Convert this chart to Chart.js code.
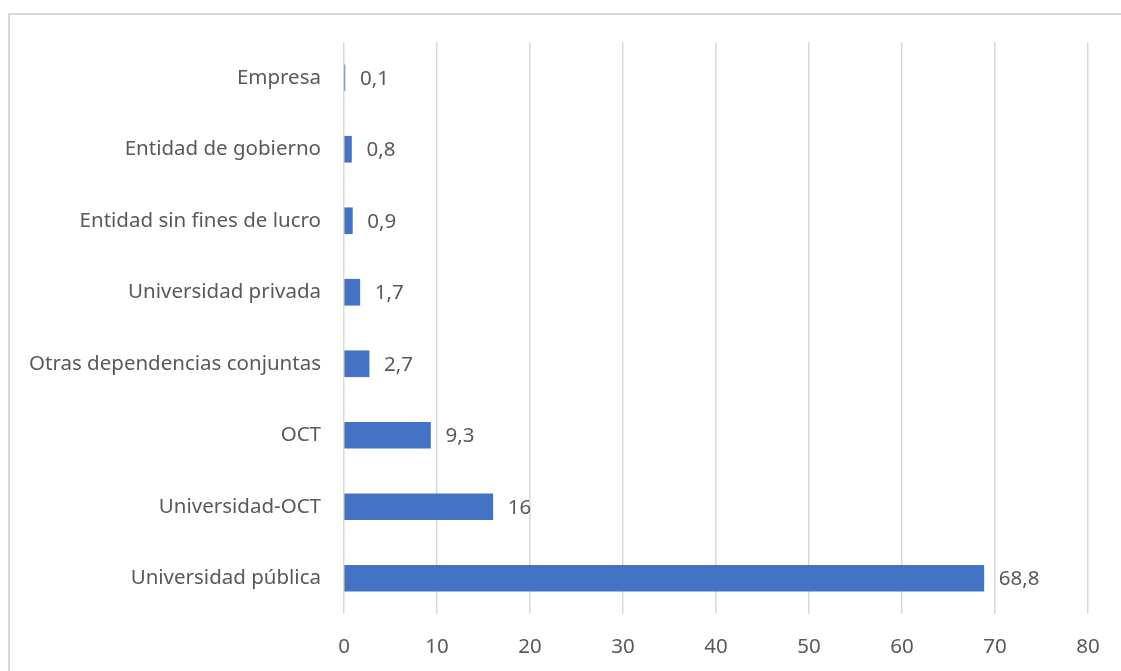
<!DOCTYPE html>
<html>
<head>
<meta charset="utf-8">
<script src="https://cdn.jsdelivr.net/npm/chart.js@4/dist/chart.umd.min.js"></script>
<style>
  html, body { margin: 0; padding: 0; background: #ffffff; overflow: hidden; }
  #frame { position: absolute; left: 8px; top: 13px; width: 1200px; height: 800px; border: 2px solid #d9d9d9; box-sizing: border-box; }
  #wrap { position: absolute; left: 0; top: 0; width: 1121px; height: 671px; }
</style>
</head>
<body>
<div id="frame"></div>
<div id="wrap"><canvas id="c" width="1121" height="671"></canvas></div>
<script>
const categories = [
  "Empresa",
  "Entidad de gobierno",
  "Entidad sin fines de lucro",
  "Universidad privada",
  "Otras dependencias conjuntas",
  "OCT",
  "Universidad-OCT",
  "Universidad pública"
];
const values = [0.1, 0.8, 0.9, 1.7, 2.7, 9.3, 16, 68.8];
const xTicks = [0, 10, 20, 30, 40, 50, 60, 70, 80];

const FONT = "'Noto Sans', 'Open Sans', sans-serif";
const TEXT = '#595959';
const FSIZE = 20.5;

const fmt = v => String(v).replace('.', ',');

const labelPlugin = {
  id: 'valueLabels',
  afterDatasetsDraw(chart) {
    const ctx = chart.ctx;
    const meta = chart.getDatasetMeta(0);
    ctx.save();
    ctx.font = FSIZE + 'px ' + FONT;
    ctx.fillStyle = TEXT;
    ctx.textAlign = 'left';
    ctx.textBaseline = 'middle';
    meta.data.forEach((bar, i) => {
      ctx.fillText(fmt(values[i]), bar.x + 15, bar.y + 1);
    });
    ctx.restore();
  }
};

new Chart(document.getElementById('c'), {
  type: 'bar',
  data: {
    labels: categories,
    datasets: [{
      data: values,
      backgroundColor: '#4472C4',
      borderWidth: 0,
      barThickness: 26
    }]
  },
  options: {
    indexAxis: 'y',
    responsive: false,
    animation: false,
    devicePixelRatio: 1,
    layout: { padding: { left: 0, top: 42, right: 33, bottom: 0 } },
    plugins: { legend: { display: false }, tooltip: { enabled: false } },
    scales: {
      x: {
        min: 0, max: 80,
        afterBuildTicks: s => { s.ticks = xTicks.map(v => ({ value: v })); },
        afterFit: s => { s.height = 57; },
        grid: { color: '#d9d9d9', lineWidth: 1.5, drawTicks: false },
        border: { display: false },
        ticks: { color: TEXT, font: { family: FONT, size: FSIZE }, padding: 21 }
      },
      y: {
        afterFit: s => { s.width = 344; },
        grid: { display: false, drawTicks: false },
        border: { display: false },
        ticks: { color: TEXT, font: { family: FONT, size: FSIZE }, padding: 23 }
      }
    }
  },
  plugins: [labelPlugin]
});
</script>
</body>
</html>
